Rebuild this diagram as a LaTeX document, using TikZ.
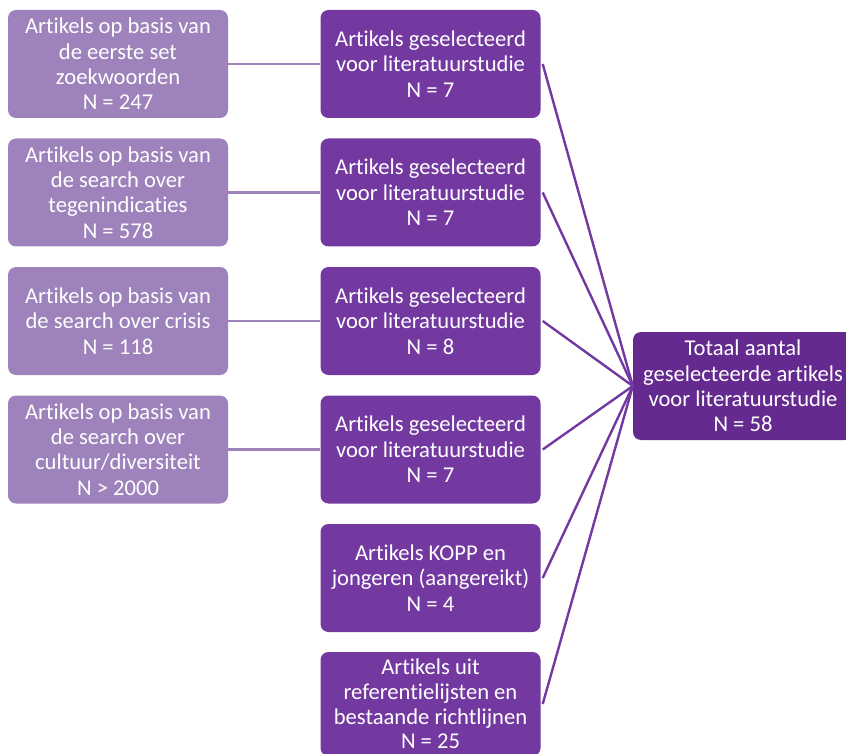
\documentclass[tikz,border=0pt]{standalone}
\usepackage{fontspec}
\setmainfont[RawFeature={-liga;-dlig}]{Carlito}
\definecolor{lightp}{HTML}{9D82BB}
\definecolor{midp}{HTML}{7339A0}
\definecolor{darkp}{HTML}{652A90}
\begin{document}
\begin{tikzpicture}[x=1pt,y=-1pt,
  box/.style={rounded corners=8pt, minimum width=220pt, minimum height=108pt,
    align=center, text=white, inner sep=0pt,
    font=\fontsize{22.6pt}{25.4pt}\selectfont},
  srcbox/.style={box, fill=lightp},
  selbox/.style={box, fill=midp},
  totbox/.style={box, fill=darkp},
  srcline/.style={draw=lightp, line width=2.2pt},
  selline/.style={draw=midp, line width=2.4pt}]
\useasboundingbox (0,0) rectangle (846,754);
\begin{scope}
\clip (0,0) rectangle (846,754);
\node[srcbox] (l1) at (118,64) {Artikels op basis van\\de eerste set\\zoekwoorden\\N = 247};
\node[srcbox] (l2) at (118,192.5) {Artikels op basis van\\de search over\\tegenindicaties\\N = 578};
\node[srcbox] (l3) at (118,321) {Artikels op basis van\\de search over crisis\\N = 118};
\node[srcbox] (l4) at (118,449.5) {Artikels op basis van\\de search over\\cultuur/diversiteit\\N > 2000};
\node[selbox] (m1) at (430.5,64) {Artikels geselecteerd\\voor literatuurstudie\\N = 7};
\node[selbox] (m2) at (430.5,192.5) {Artikels geselecteerd\\voor literatuurstudie\\N = 7};
\node[selbox] (m3) at (430.5,321) {Artikels geselecteerd\\voor literatuurstudie\\N = 8};
\node[selbox] (m4) at (430.5,449.5) {Artikels geselecteerd\\voor literatuurstudie\\N = 7};
\node[selbox] (m5) at (430.5,578) {Artikels KOPP en\\jongeren (aangereikt)\\N = 4};
\node[selbox, minimum height=104pt, font=\fontsize{22.6pt}{24.6pt}\selectfont] (m6) at (430.5,704) {Artikels uit\\referentielijsten en\\bestaande richtlijnen\\N = 25};
\node[totbox] (t) at (743,386) {Totaal aantal\\geselecteerde artikels\\voor literatuurstudie\\N = 58};
\draw[srcline] (l1.east) -- (m1.west);
\draw[srcline] (l2.east) -- (m2.west);
\draw[srcline] (l3.east) -- (m3.west);
\draw[srcline] (l4.east) -- (m4.west);
\foreach \m in {m1,m2,m3,m4,m5,m6}
  \draw[selline] ([xshift=2pt]\m.east) -- (t.west);
\end{scope}
\end{tikzpicture}
\end{document}
